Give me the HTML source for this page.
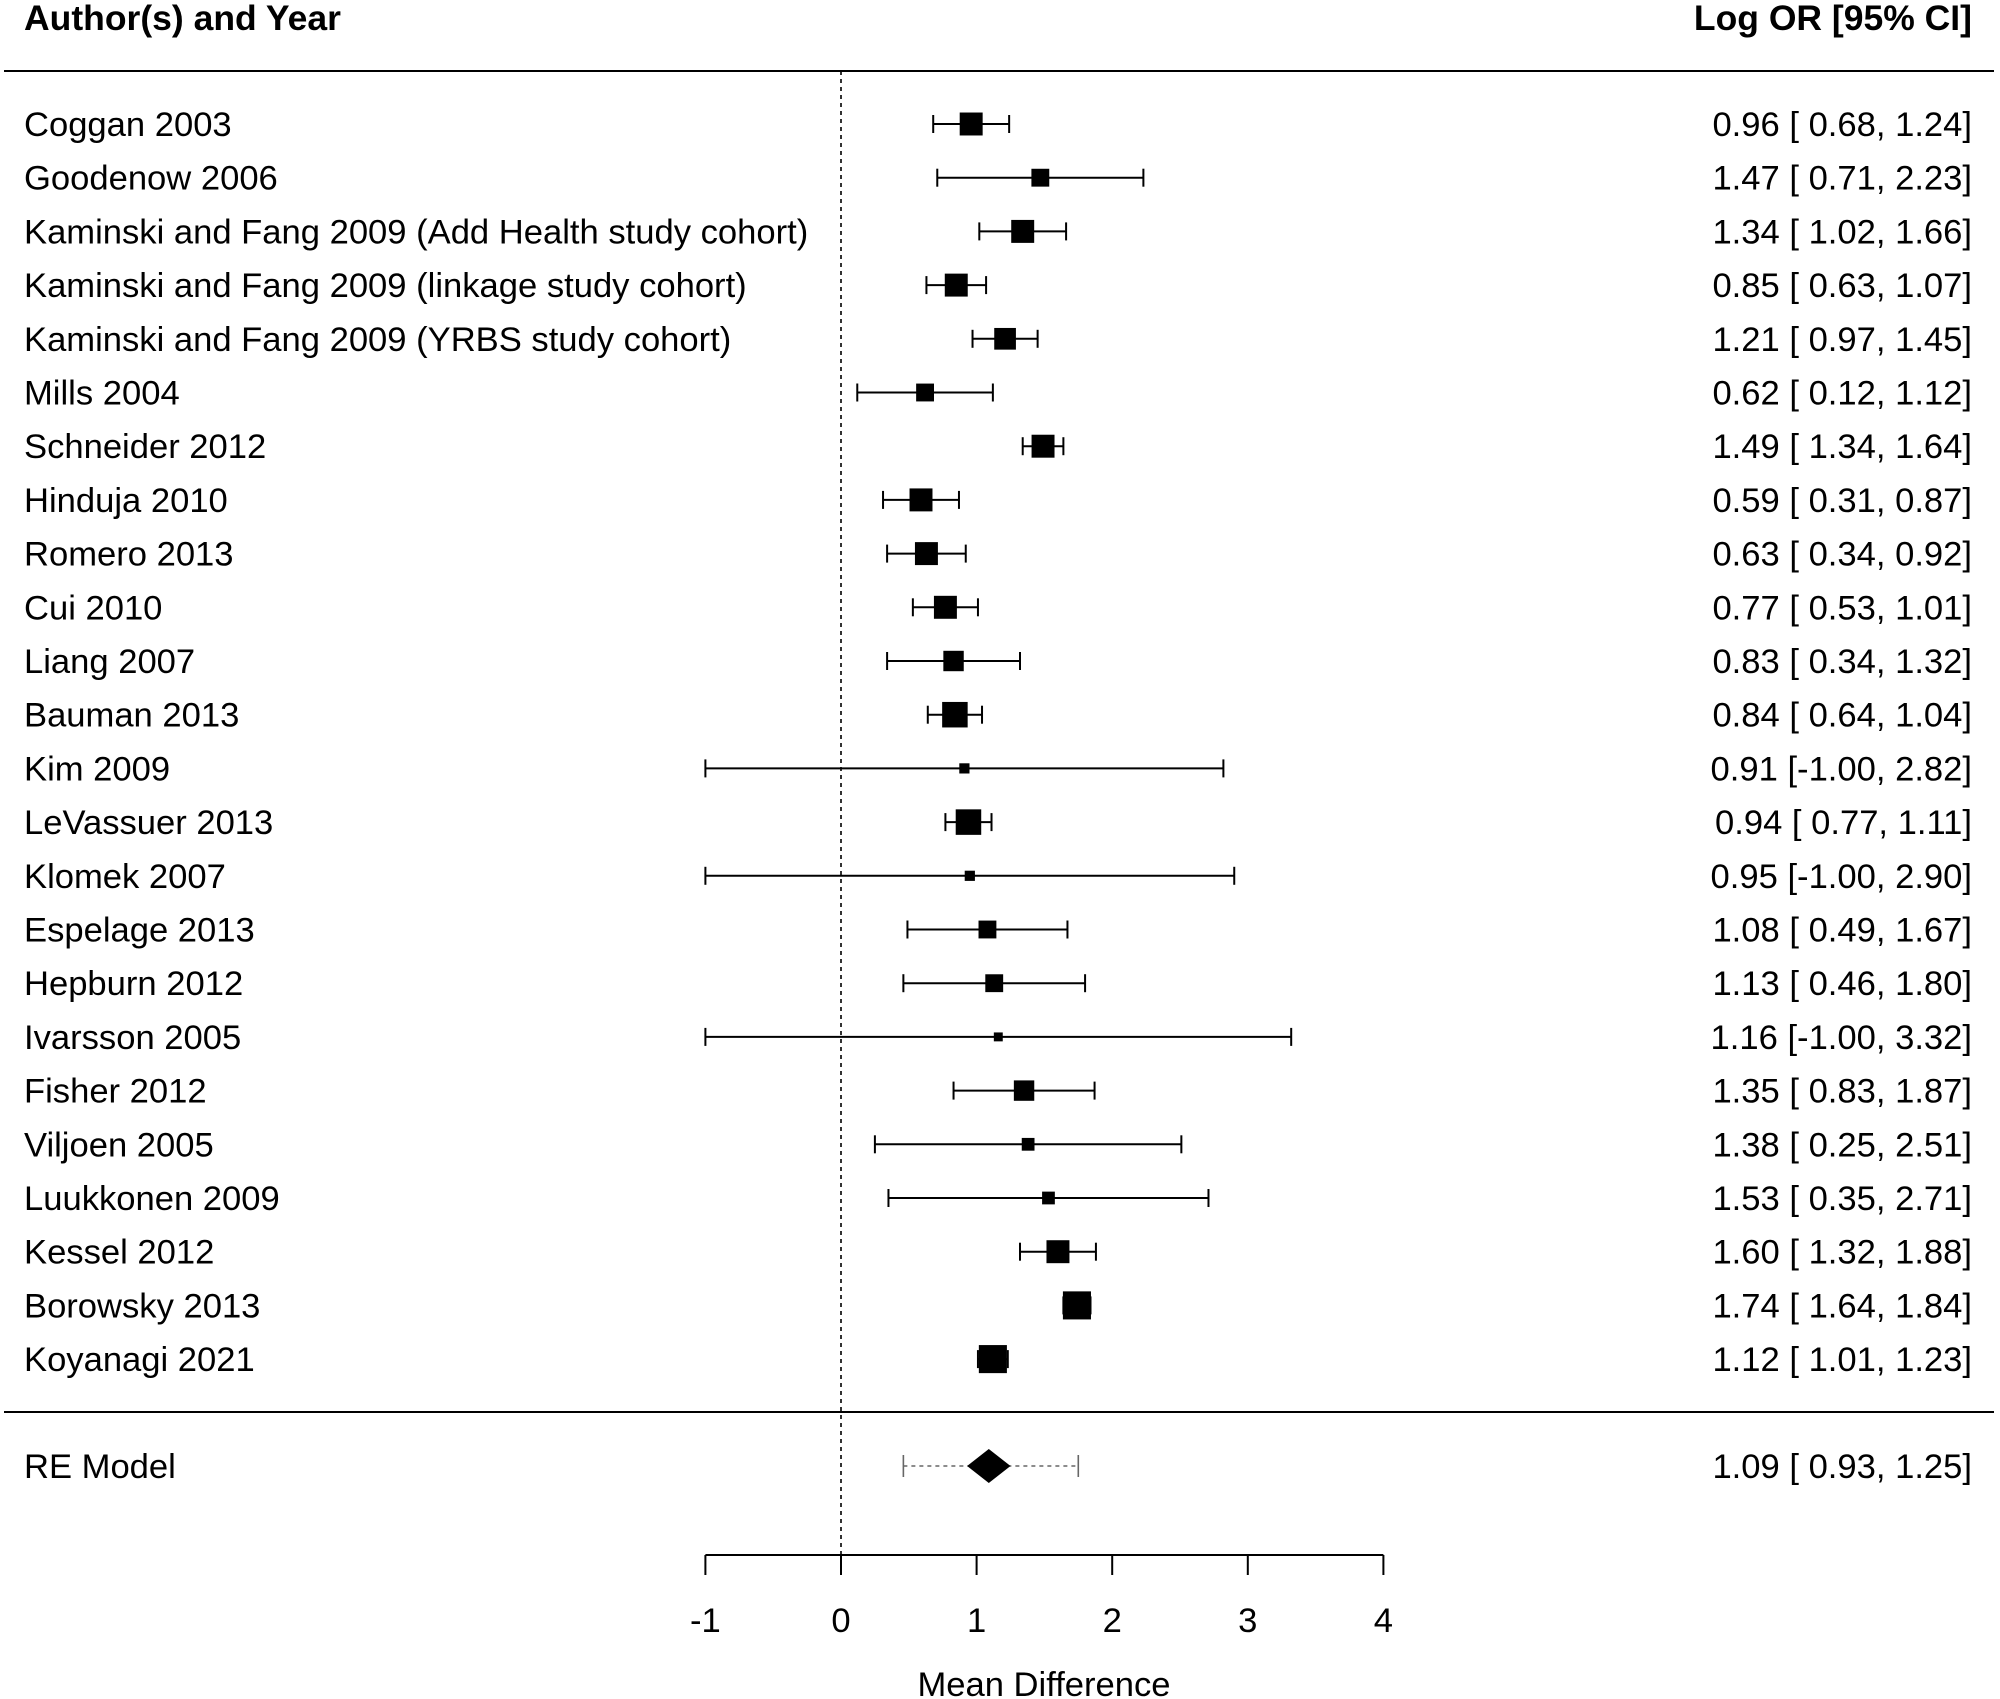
<!DOCTYPE html>
<html><head><meta charset="utf-8"><style>
html,body{margin:0;padding:0;background:#fff;}
svg{display:block;font-family:"Liberation Sans",Arial,sans-serif;}
</style></head><body>
<svg id="chart" width="2000" height="1699" viewBox="0 0 2000 1699" xmlns="http://www.w3.org/2000/svg">
<text x="24" y="30" font-size="35.5" font-weight="bold">Author(s) and Year</text>
<text x="1972" y="30" font-size="35.5" font-weight="bold" text-anchor="end">Log OR [95% CI]</text>
<line x1="4" y1="71" x2="1994" y2="71" stroke="#000" stroke-width="2"/>
<line x1="4" y1="1412" x2="1994" y2="1412" stroke="#000" stroke-width="2"/>
<g id="marks"></g>
</svg>
<script>
const studies = ["Coggan 2003","Goodenow 2006","Kaminski and Fang 2009 (Add Health study cohort)","Kaminski and Fang 2009 (linkage study cohort)","Kaminski and Fang 2009 (YRBS study cohort)","Mills 2004","Schneider 2012","Hinduja 2010","Romero 2013","Cui 2010","Liang 2007","Bauman 2013","Kim 2009","LeVassuer 2013","Klomek 2007","Espelage 2013","Hepburn 2012","Ivarsson 2005","Fisher 2012","Viljoen 2005","Luukkonen 2009","Kessel 2012","Borowsky 2013","Koyanagi 2021"];
const estimates = [0.96,1.47,1.34,0.85,1.21,0.62,1.49,0.59,0.63,0.77,0.83,0.84,0.91,0.94,0.95,1.08,1.13,1.16,1.35,1.38,1.53,1.60,1.74,1.12];
const lower = [0.68,0.71,1.02,0.63,0.97,0.12,1.34,0.31,0.34,0.53,0.34,0.64,-1.00,0.77,-1.00,0.49,0.46,-1.00,0.83,0.25,0.35,1.32,1.64,1.01];
const upper = [1.24,2.23,1.66,1.07,1.45,1.12,1.64,0.87,0.92,1.01,1.32,1.04,2.82,1.11,2.90,1.67,1.80,3.32,1.87,2.51,2.71,1.88,1.84,1.23];
const weights = [9,7,9,9,8.5,7,9,9,9,9,8,10,4,10,4,7,7,3.5,8,5,5,9,11,11];
const summary = {est:1.09, lo:0.93, hi:1.25, piLo:0.46, piHi:1.75};
const ticks = [-1,0,1,2,3,4];

const svg = document.getElementById('marks');
const NS = 'http://www.w3.org/2000/svg';
const FS = 34.6;
const x = v => 841 + v * 135.6;
const y = i => 124 + i * 53.7;
function mk(tag, attrs){const e=document.createElementNS(NS,tag);for(const k in attrs)e.setAttribute(k,attrs[k]);svg.appendChild(e);return e;}
const fmt = v => (v<0?'':' ') + v.toFixed(2);

const ref = mk('line',{x1:x(0),y1:71,x2:x(0),y2:1555,stroke:'#000','stroke-width':1.6,'stroke-dasharray':'4,4'});



studies.forEach((s,i)=>{
  const cy = y(i);
  const t = mk('text',{x:24,y:cy+12,'font-size':FS});
  t.textContent = s;
  
  
  const v = mk('text',{x:1972,y:cy+12,'font-size':FS,'text-anchor':'end'});
  v.textContent = estimates[i].toFixed(2)+' ['+fmt(lower[i])+', '+upper[i].toFixed(2)+']';
  
  
  const l = mk('line',{x1:x(lower[i]),y1:cy,x2:x(upper[i]),y2:cy,stroke:'#000','stroke-width':2});
  
  
  [lower[i],upper[i]].forEach(e=>{
    const c = mk('line',{x1:x(e),y1:cy-9,x2:x(e),y2:cy+9,stroke:'#000','stroke-width':2});
    
    
  });
  const h = weights[i]*1.2755;
  const r = mk('rect',{x:x(estimates[i])-h,y:cy-h,width:2*h,height:2*h,fill:'#000'});
  
  
});

const sy = 1466;
const st = mk('text',{x:24,y:sy+12,'font-size':FS});
st.textContent='RE Model';


const sv = mk('text',{x:1972,y:sy+12,'font-size':FS,'text-anchor':'end'});
sv.textContent = summary.est.toFixed(2)+' ['+fmt(summary.lo)+', '+summary.hi.toFixed(2)+']';


const pi = mk('line',{x1:x(summary.piLo),y1:sy,x2:x(summary.piHi),y2:sy,stroke:'#666','stroke-width':1.6,'stroke-dasharray':'4,4'});


[summary.piLo,summary.piHi].forEach(e=>{
  const c = mk('line',{x1:x(e),y1:sy-11,x2:x(e),y2:sy+11,stroke:'#666','stroke-width':1.6});
  
  
});
const d = mk('polygon',{points:`${x(summary.lo)},${sy} ${x(summary.est)},${sy-17} ${x(summary.hi)},${sy} ${x(summary.est)},${sy+17}`,fill:'#000'});



const ax = mk('line',{x1:x(ticks[0]),y1:1555,x2:x(ticks[ticks.length-1]),y2:1555,stroke:'#000','stroke-width':2});


ticks.forEach(t=>{
  const tk = mk('line',{x1:x(t),y1:1555,x2:x(t),y2:1575,stroke:'#000','stroke-width':2});
  
  
  const tl = mk('text',{x:x(t),y:1632,'font-size':FS,'text-anchor':'middle'});
  tl.textContent = String(t);
  
  
});
const at = mk('text',{x:1044,y:1696,'font-size':FS,'text-anchor':'middle'});
at.textContent='Mean Difference';


</script>
</body></html>
